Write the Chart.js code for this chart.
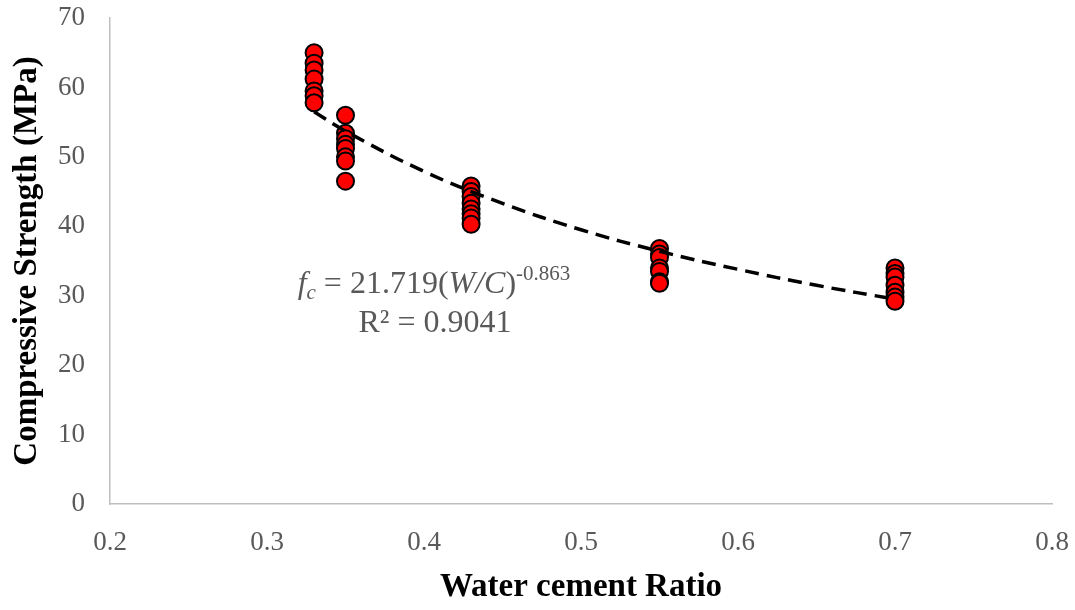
<!DOCTYPE html>
<html lang="en">
<head>
  <meta charset="UTF-8">
  <title>Compressive Strength vs Water cement Ratio</title>
  <script src="https://cdn.jsdelivr.net/npm/chart.js"></script>
  <style>
    html, body {
      margin: 0;
      padding: 0;
      background: #ffffff;
    }
    #wrap {
      width: 1075px;
      height: 610px;
    }
  </style>
</head>
<body>
<div id="wrap"><canvas id="strength_chart"></canvas></div>

<script>
  // water/cement ratios tested
  const ratios = [0.33, 0.35, 0.43, 0.55, 0.7];

  // compressive strength (MPa) measured at each ratio
  const strength033 = [65, 63.5, 62.5, 61.2, 59.5, 58.8, 57.8];
  const strength035 = [56, 53.4, 52.6, 51.8, 51.2, 50, 49.4, 46.5];
  const strength043 = [45.8, 45, 44.3, 43.3, 42.5, 41.8, 41.2, 40.3];
  const strength055 = [36.8, 36, 35.5, 34, 33.5, 32, 31.8];
  const strength070 = [34, 33.2, 32.7, 31.5, 30.5, 29.8, 29.2];

  // power trend line
  const trendX = [0.33, 0.35, 0.4, 0.45, 0.5, 0.55, 0.6, 0.65, 0.7];
  const trendY = [56.5, 53.7, 47.9, 43.3, 39.5, 36.4, 33.8, 31.5, 29.5];

  // axis ticks
  const xTicks = [0.2, 0.3, 0.4, 0.5, 0.6, 0.7, 0.8];
  const yTicks = [0, 10, 20, 30, 40, 50, 60, 70];

  const groups = [strength033, strength035, strength043, strength055, strength070];
  const points = [];
  groups.forEach((g, i) => {
    g.forEach(v => points.push({ x: ratios[i], y: v }));
  });
  const trend = trendX.map((x, i) => ({ x: x, y: trendY[i] }));

  const serif = "'Liberation Serif', 'Times New Roman', serif";

  // equation + R² label
  const equationLabel = {
    id: 'equationLabel',
    afterDraw(chart) {
      const ctx = chart.ctx;
      const size = 32;
      const small = 21;
      ctx.save();
      ctx.fillStyle = '#595959';
      ctx.textBaseline = 'alphabetic';
      ctx.textAlign = 'left';

      const parts = [
        { t: 'f', font: 'italic ' + size + 'px ' + serif, dy: 0 },
        { t: 'c', font: 'italic ' + small + 'px ' + serif, dy: 6 },
        { t: ' = 21.719(', font: size + 'px ' + serif, dy: 0 },
        { t: 'W/C', font: 'italic ' + size + 'px ' + serif, dy: 0 },
        { t: ')', font: size + 'px ' + serif, dy: 0 },
        { t: '-0.863', font: small + 'px ' + serif, dy: -13 }
      ];
      let total = 0;
      parts.forEach(p => {
        ctx.font = p.font;
        p.w = ctx.measureText(p.t).width;
        total += p.w;
      });
      let x = 434 - total / 2;
      parts.forEach(p => {
        ctx.font = p.font;
        ctx.fillText(p.t, x, 293 + p.dy);
        x += p.w;
      });

      ctx.font = size + 'px ' + serif;
      ctx.textAlign = 'center';
      ctx.fillText('R² = 0.9041', 435, 332);
      ctx.restore();
    }
  };

  const ctx = document.getElementById('strength_chart').getContext('2d');
  const strength_chart = new Chart(ctx, {
    type: 'scatter',
    data: {
      datasets: [
        {
          label: 'Trend',
          type: 'line',
          data: trend,
          order: 0,
          borderColor: '#000000',
          borderWidth: 3.5,
          borderDash: [14, 8],
          pointRadius: 0,
          tension: 0.4,
          fill: false
        },
        {
          label: 'Compressive strength',
          data: points,
          order: 1,
          backgroundColor: '#ff0000',
          borderColor: '#000000',
          borderWidth: 2,
          pointRadius: 8.5,
          pointHoverRadius: 8.5
        }
      ]
    },
    options: {
      responsive: true,
      maintainAspectRatio: false,
      animation: false,
      layout: {
        padding: { top: 18, right: 23, left: 0, bottom: 0 }
      },
      plugins: {
        legend: { display: false },
        tooltip: { enabled: false }
      },
      scales: {
        x: {
          type: 'linear',
          min: 0.2,
          max: 0.8,
          afterFit: s => {
            s.height = 106;
            s.paddingLeft = 0;
            s.paddingRight = 0;
          },
          afterBuildTicks: s => { s.ticks = xTicks.map(v => ({ value: v })); },
          grid: { display: false, drawTicks: false },
          border: { display: true, color: '#bfbfbf', width: 1.5 },
          ticks: {
            padding: 23,
            color: '#595959',
            font: { family: serif, size: 27 },
            callback: v => v.toFixed(1)
          },
          title: {
            display: true,
            text: 'Water cement Ratio',
            color: '#000000',
            font: { family: serif, size: 33, weight: 'bold' },
            padding: { top: 0, bottom: 3 }
          }
        },
        y: {
          min: 0,
          max: 70,
          afterFit: s => {
            s.width = 110;
            s.paddingTop = 0;
            s.paddingBottom = 0;
          },
          afterBuildTicks: s => { s.ticks = yTicks.map(v => ({ value: v })); },
          grid: { display: false, drawTicks: false },
          border: { display: true, color: '#bfbfbf', width: 1.5 },
          ticks: {
            padding: 25,
            color: '#595959',
            font: { family: serif, size: 27 }
          },
          title: {
            display: true,
            text: 'Compressive Strength (MPa)',
            color: '#000000',
            font: { family: serif, size: 33, weight: 'bold' },
            padding: { top: 8, bottom: 0 }
          }
        }
      }
    },
    plugins: [equationLabel]
  });
</script>
</body>
</html>
